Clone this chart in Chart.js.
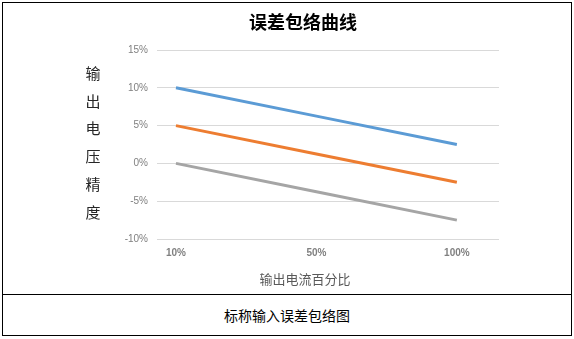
<!DOCTYPE html>
<html>
<head>
<meta charset="utf-8">
<script src="https://cdn.jsdelivr.net/npm/chart.js@4/dist/chart.umd.min.js"></script>
<style>
  body { margin: 0; background: #fff; }
  #frame {
    position: absolute; left: 2px; top: 2px;
    width: 568px; height: 332px;
    border: 1px solid #000;
  }
  #plot { position: absolute; left: 0; top: 0; width: 568px; height: 291px; }
  #caption {
    position: absolute; left: 0; top: 291px; width: 568px; height: 41px;
    border-top: 1px solid #000;
    font: 14px "Noto Sans CJK SC", sans-serif; color: #000;
    text-align: center; line-height: 41px;
  }
</style>
</head>
<body>
<div id="frame">
  <div id="plot"><canvas id="chart" width="568" height="291"></canvas></div>
  <div id="caption">标称输入误差包络图</div>
</div>
<script>
const titleText = "误差包络曲线";
const yTitle = ["输", "出", "电", "压", "精", "度"];
const xTitle = "输出电流百分比";
const xLabels = ["10%", "50%", "100%"];
const upperLine = [10, 6.25, 2.5];
const nominalLine = [5, 1.25, -2.5];
const lowerLine = [0, -3.75, -7.5];
const yTicks = [-10, -5, 0, 5, 10, 15];

const toPoints = (arr) => arr.map((v, i) => ({ x: i, y: v }));

const textPlugin = {
  id: "texts",
  afterDraw(chart) {
    const ctx = chart.ctx;
    ctx.save();
    ctx.textAlign = "center";
    ctx.textBaseline = "middle";
    ctx.fillStyle = "#000";
    ctx.font = "bold 18px 'Noto Sans CJK SC'";
    ctx.fillText(titleText, 300, 19);

    ctx.fillStyle = "#262626";
    ctx.font = "15px 'Noto Sans CJK SC'";
    yTitle.forEach((ch, i) => {
      ctx.fillText(ch, 90, 70 + i * 27.8);
    });

    ctx.fillStyle = "#595959";
    ctx.font = "13px 'Noto Sans CJK SC'";
    ctx.fillText(xTitle, 302, 276);
    ctx.restore();
  },
};

new Chart(document.getElementById("chart"), {
  type: "line",
  data: {
    datasets: [
      {
        label: "上限",
        data: toPoints(upperLine),
        borderColor: "#5B9BD5",
        borderWidth: 3,
        pointRadius: 0,
      },
      {
        label: "标称",
        data: toPoints(nominalLine),
        borderColor: "#ED7D31",
        borderWidth: 3,
        pointRadius: 0,
      },
      {
        label: "下限",
        data: toPoints(lowerLine),
        borderColor: "#A5A5A5",
        borderWidth: 3,
        pointRadius: 0,
      },
    ],
  },
  options: {
    responsive: false,
    animation: false,
    layout: { padding: { top: 47, right: 72, bottom: 35, left: 0 } },
    plugins: {
      legend: { display: false },
      title: { display: false },
      tooltip: { enabled: false },
    },
    scales: {
      x: {
        type: "linear",
        min: -0.135,
        max: 2.3,
        afterBuildTicks: (scale) => {
          scale.ticks = xLabels.map((l, i) => ({ value: i }));
        },
        ticks: {
          callback: (val) => xLabels[val],
          color: "#808080",
          font: { family: "Liberation Sans", size: 10, weight: "bold" },
          padding: 0,
          maxRotation: 0,
        },
        grid: { display: false },
        border: { display: false },
      },
      y: {
        min: -10,
        max: 15,
        afterBuildTicks: (scale) => {
          scale.ticks = yTicks.map((v) => ({ value: v }));
        },
        afterFit: (scale) => {
          scale.width = 154;
        },
        ticks: {
          callback: (val) => val + "%",
          color: "#808080",
          font: { family: "Liberation Sans", size: 10 },
          padding: 9,
        },
        grid: { color: "#d9d9d9", drawTicks: false },
        border: { display: false },
      },
    },
  },
  plugins: [textPlugin],
});
</script>
</body>
</html>
